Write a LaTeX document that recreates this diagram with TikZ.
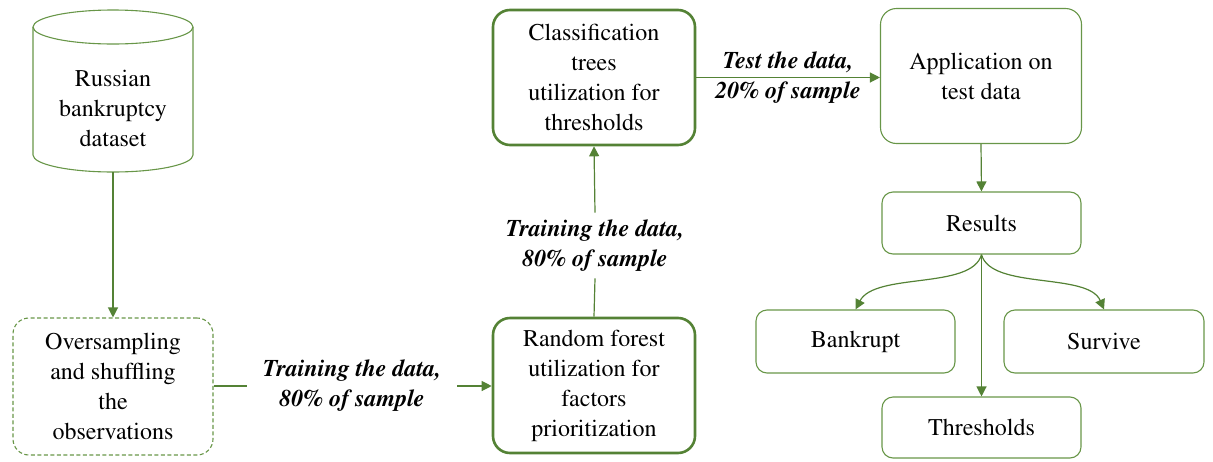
\documentclass[tikz,border=0pt]{standalone}
\usepackage[T1]{fontenc}
\usepackage{times}
\usetikzlibrary{arrows.meta}
\definecolor{gline}{RGB}{84,130,53}
\definecolor{gthin}{RGB}{104,150,72}
\begin{document}
\begin{tikzpicture}[x=1pt,y=-1pt,
  txt/.style={font=\rmfamily\fontsize{24}{30}\selectfont, align=center, text=black},
  thinbox/.style={txt, draw=gthin, line width=1.1pt, rounded corners=16pt, inner sep=0pt},
  thickbox/.style={txt, draw=gline, line width=2.6pt, rounded corners=17pt, inner sep=0pt},
  smallbox/.style={txt, draw=gthin, line width=1.1pt, rounded corners=11pt, inner sep=0pt},
  dashbox/.style={txt, draw=gthin, line width=1.1pt, dash pattern=on 4pt off 2.5pt, rounded corners=16pt, inner sep=0pt},
  lab/.style={font=\rmfamily\fontsize{24}{30}\selectfont\bfseries\itshape, align=center, text=black},
  conn/.style={draw=gline, line width=1.2pt},
  arr/.style={conn, -{Triangle[length=10pt,width=10pt]}}
]
\useasboundingbox (0,0) rectangle (1213,461);

% cylinder
\draw[gthin, line width=1.1pt] (113,27) ellipse [x radius=80, y radius=17];
\draw[gthin, line width=1.1pt] (33,27) -- (33,155) arc [start angle=180, end angle=0, x radius=80, y radius=17] -- (193,27);
\node[txt] (cyl) at (113,108) {Russian\\bankruptcy\\dataset};
\coordinate (cylb) at (113,172);

% boxes
\node[dashbox, minimum width=200pt, minimum height=137pt] (over) at (113,386.5) {Oversampling\\and shuffling\\the\\observations};
\node[thickbox, minimum width=202pt, minimum height=135pt] (rf) at (594,385.5) {Random forest\\utilization for\\factors\\prioritization};
\node[thickbox, minimum width=202pt, minimum height=135pt] (cls) at (594,77.5) {Classification\\trees\\utilization for\\thresholds};
\node[thinbox, minimum width=201pt, minimum height=135pt] (app) at (981,76) {Application on\\test data};
\node[smallbox, minimum width=199pt, minimum height=62pt] (res) at (981.5,223) {Results};
\node[smallbox, minimum width=199pt, minimum height=63pt] (bank) at (855.5,341.5) {Bankrupt};
\node[smallbox, minimum width=200pt, minimum height=63pt] (surv) at (1104,341.5) {Survive};
\node[smallbox, minimum width=199pt, minimum height=61pt] (thr) at (981.5,427.5) {Thresholds};

% labels
\node[lab, inner xsep=16pt, inner ysep=4pt] (lab1) at (352,386) {Training the data,\\80\% of sample};
\node[lab, inner xsep=4pt, inner ysep=7pt] (lab2) at (595,245.5) {Training the data,\\80\% of sample};

% connectors
\draw[arr] (cylb) -- (over.north);
\draw[conn] (over.east |- lab1.west) -- (lab1.west);
\draw[arr] (lab1.east) -- (rf.west |- lab1.east);
\draw[conn] (rf.north) -- (lab2.south);
\draw[arr] (lab2.north) -- (cls.south);
\draw[arr] (cls.east) -- node[lab, midway] (lab3) {Test the data,\\20\% of sample} (app.west |- cls.east);
\draw[arr] (app.south) -- (res.north);
\draw[arr] (res.south) -- (thr.north);
\draw[arr] (res.south) .. controls (972,290) and (875,272) .. (bank.north);
\draw[arr] (res.south) .. controls (991,290) and (1088,272) .. (surv.north);
\end{tikzpicture}
\end{document}
